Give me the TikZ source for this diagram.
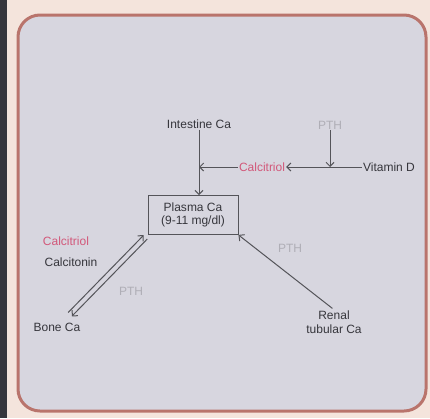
\documentclass[tikz,border=0pt]{standalone}
\usepackage{fontspec}
\setmainfont{Liberation Sans}
\usetikzlibrary{arrows.meta}
\definecolor{paper}{HTML}{F4E4DC}
\definecolor{panel}{HTML}{D7D6DF}
\definecolor{frame}{HTML}{B9746C}
\definecolor{ink}{HTML}{36363C}
\definecolor{hormone}{HTML}{D2587A}
\begin{document}
\begin{tikzpicture}[x=1pt, y=-1pt,
    lbl/.style={font=\fontsize{12}{13.5}\selectfont, text=ink, inner sep=1pt},
    redlbl/.style={lbl, text=hormone},
    faint/.style={lbl, text=ink!25!panel},
    conn/.style={draw=ink!85, line width=1pt, -{Straight Barb[length=4pt, width=8pt]}}]
    \useasboundingbox (0,0) rectangle (430,418);
    \fill[paper] (0,0) rectangle (430,418);
    \fill[ink] (0,0) rectangle (7,418);
    \draw[frame, line width=3pt, fill=panel, rounded corners=22pt] (18,15) rectangle (426,411);
    \node[lbl] (intest) at (199,124) {Intestine Ca}; \node[faint] (pth1) at (330,125) {PTH};
    \node[redlbl] (calc) at (262,167) {Calcitriol}; \node[lbl] (vitd) at (389,167) {Vitamin D};
    \node[lbl, draw=ink!85, line width=0.9pt, minimum width=90pt, minimum height=39pt, align=center] (plasma) at (193,215) {Plasma Ca\\(9-11 mg/dl)};
    \node[redlbl] (calc2) at (66,241) {Calcitriol}; \node[lbl] (ctn) at (71,262) {Calcitonin};
    \node[lbl] (bone) at (57,327) {Bone Ca}; \node[faint] (pth2) at (131,291) {PTH};
    \node[lbl, align=center] (renal) at (334,322) {Renal\\tubular Ca}; \node[faint] (pth3) at (290,248) {PTH};
    \draw[conn] (intest.south) -- (intest.south |- plasma.north);
    \draw[conn] (calc.west) -- (intest.south |- calc.west);
    \draw[conn] (vitd.west) -- (calc.east);
    \draw[conn] (pth1.south) -- (pth1.south |- vitd.west);
    \draw[conn, shorten <=10pt, shorten >=3pt, transform canvas={shift={(-1.8,-1.9)}}] ([xshift=6pt]bone.north) -- (plasma.south west);% up
    \draw[conn, shorten <=3pt, shorten >=10pt, transform canvas={shift={(1.8,1.9)}}] (plasma.south west) -- ([xshift=6pt]bone.north);% down
    \draw[conn, shorten <=2pt] (renal.north) -- (plasma.south east);
\end{tikzpicture}
\end{document}
